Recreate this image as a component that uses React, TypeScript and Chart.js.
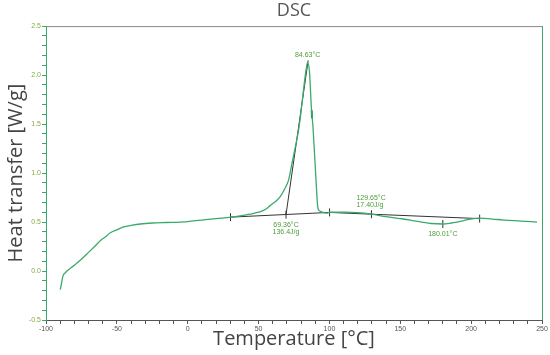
import React, { useEffect, useRef } from "react";
import { Chart, registerables } from "chart.js";

Chart.register(...registerables);

// Main DSC curve (temperature °C, heat flow W/g)
const temperature = [
  -89.9, -89.0, -88.0, -86.5, -85.2, -80, -75.8, -70, -65, -61.7, -58, -54.6, -50, -45.2, -40, -33.4,
  -25, -15, -5, 0, 5, 10, 20, 30.8, 40, 44.2, 50, 55, 58.3, 62, 65.3, 68.5, 71.2, 73.6, 76.0, 78,
  79.5, 81, 82.3, 83.7, 84.6, 86.0, 87.2, 88.4, 89.6, 90.8, 91.7, 92.5, 93.6, 98.3, 100, 110, 120,
  129.65, 140, 150, 157, 165, 172, 180, 186, 190, 195, 199.4, 206, 215, 223, 235, 246.5,
];
const heatFlow = [
  -0.19, -0.12, -0.05, -0.02, 0.0, 0.06, 0.11, 0.19, 0.26, 0.31, 0.35, 0.39, 0.42, 0.45, 0.465, 0.48,
  0.49, 0.495, 0.5, 0.505, 0.515, 0.52, 0.535, 0.55, 0.57, 0.58, 0.6, 0.63, 0.67, 0.71, 0.76, 0.84,
  0.93, 1.1, 1.27, 1.42, 1.57, 1.76, 1.92, 2.07, 2.13, 2.02, 1.68, 1.47, 1.17, 0.86, 0.66, 0.62, 0.61,
  0.59, 0.6, 0.6, 0.595, 0.58, 0.555, 0.535, 0.52, 0.5, 0.485, 0.48, 0.49, 0.5, 0.515, 0.53, 0.54,
  0.53, 0.52, 0.51, 0.5,
];

// Integration baselines (dark)
const baselineT = [30.2, 100.1, 129.65, 206];
const baselineH = [0.55, 0.598, 0.58, 0.535];

// Onset tangent
const tangentT = [69.36, 85.0];
const tangentH = [0.575, 2.15];

// Vertical tick markers on the analysis
const markerT = [30.2, 69.36, 100.1, 129.65, 180.01, 206];
const markerH = [0.55, 0.575, 0.598, 0.58, 0.48, 0.535];

// Small cursor mark on the falling edge of the peak
const cursorT = [87.6];
const cursorH = [1.6];

// Annotation texts
const noteT = [84.63, 69.36, 129.65, 180.01];
const noteH = [2.13, 0.575, 0.58, 0.48];
const noteText = [["84.63°C"], ["69.36°C", "136.4J/g"], ["129.65°C", "17.40J/g"], ["180.01°C"]];
const notePlacement = ["above", "below", "above", "below"];

// Axis ranges
const xMin = -100;
const xMax = 250;
const yMin = -0.5;
const yMax = 2.5;

const GREEN = "#3aaa6a";
const DARK = "#333333";

const toXY = (xs: number[], ys: number[]) => xs.map((x, i) => ({ x, y: ys[i] }));

const annotationPlugin = {
  id: "dscNotes",
  afterDatasetsDraw(chart: any) {
    const { ctx, chartArea, scales } = chart;
    ctx.save();
    // frame: top gray, right green
    ctx.lineWidth = 1;
    ctx.strokeStyle = "#888888";
    ctx.beginPath();
    ctx.moveTo(chartArea.left, chartArea.top + 0.5);
    ctx.lineTo(chartArea.right, chartArea.top + 0.5);
    ctx.stroke();
    ctx.strokeStyle = GREEN;
    ctx.beginPath();
    ctx.moveTo(chartArea.right + 0.5, chartArea.top);
    ctx.lineTo(chartArea.right + 0.5, chartArea.bottom);
    ctx.stroke();

    ctx.fillStyle = "#4e9a3a";
    ctx.font = "7px Arial, 'Liberation Sans', sans-serif";
    ctx.textBaseline = "middle";
    noteT.forEach((t, i) => {
      const px = scales.x.getPixelForValue(t);
      const py = scales.y.getPixelForValue(noteH[i]);
      const lines = noteText[i];
      const above = notePlacement[i] === "above";
      lines.forEach((line, j) => {
        let y: number;
        if (above) {
          y = py - 8 - (lines.length - 1 - j) * 7.5;
          if (i === 0) y = py - 7;
        } else {
          y = py + 10 + j * 7.5;
        }
        if (i === 2) {
          ctx.textAlign = "left";
          ctx.fillText(line, px - 15, y - 1);
        } else {
          ctx.textAlign = "center";
          ctx.fillText(line, px, y);
        }
      });
    });
    ctx.restore();
  },
};

export default function App() {
  const canvasRef = useRef<HTMLCanvasElement | null>(null);

  useEffect(() => {
    if (!canvasRef.current) return;
    const chart = new Chart(canvasRef.current, {
      type: "line",
      data: {
        datasets: [
          {
            label: "DSC",
            data: toXY(temperature, heatFlow),
            borderColor: GREEN,
            borderWidth: 1.3,
            pointRadius: 0,
            cubicInterpolationMode: "monotone",
            fill: false,
          },
          {
            label: "Baseline",
            data: toXY(baselineT, baselineH),
            borderColor: DARK,
            borderWidth: 1,
            pointRadius: 0,
            tension: 0,
          },
          {
            label: "Tangent",
            data: toXY(tangentT, tangentH),
            borderColor: DARK,
            borderWidth: 1,
            pointRadius: 0,
            tension: 0,
          },
          {
            label: "Markers",
            data: toXY(markerT, markerH),
            showLine: false,
            pointStyle: "line",
            rotation: 90,
            pointRadius: 4,
            pointBorderWidth: 1,
            pointBorderColor: DARK,
            pointBackgroundColor: DARK,
            borderColor: DARK,
          },
          {
            label: "Cursor",
            data: toXY(cursorT, cursorH),
            showLine: false,
            pointStyle: "line",
            rotation: 88,
            pointRadius: 4,
            pointBorderWidth: 2,
            pointBorderColor: "#1e8a45",
            borderColor: "#1e8a45",
          },
        ],
      },
      options: {
        responsive: false,
        animation: false,
        layout: { padding: { top: 0, right: 8, left: 0, bottom: 0 } },
        plugins: {
          legend: { display: false },
          tooltip: { enabled: false },
          title: {
            display: true,
            text: "DSC",
            fullSize: false,
            color: "#555555",
            font: { size: 18, family: "'Open Sans', 'Noto Sans', sans-serif", weight: "normal" },
            padding: { top: 0, bottom: 4.5 },
          },
        },
        scales: {
          x: {
            type: "linear",
            min: xMin,
            max: xMax,
            afterFit: (scale: any) => {
              scale.height = 35;
            },
            border: { color: "#555555", width: 1 },
            grid: { drawOnChartArea: false, drawTicks: true, tickLength: 4, color: "#555555" },
            ticks: {
              stepSize: 10,
              autoSkip: false,
              maxRotation: 0,
              padding: 1,
              color: "#555555",
              font: { size: 7, family: "Arial, 'Liberation Sans', sans-serif" },
              callback: (v: any) => (Math.round(v) % 50 === 0 ? String(Math.round(v)) : ""),
            },
            title: {
              display: true,
              text: "Temperature [°C]",
              color: "#444444",
              font: { size: 20, family: "'Open Sans', 'Noto Sans', sans-serif" },
              padding: { top: 0, bottom: 4 },
            },
          },
          y: {
            type: "linear",
            min: yMin,
            max: yMax,
            afterFit: (scale: any) => {
              scale.width = 46;
            },
            border: { color: GREEN, width: 1 },
            grid: { drawOnChartArea: false, drawTicks: true, tickLength: 4, color: GREEN },
            ticks: {
              stepSize: 0.1,
              autoSkip: false,
              padding: 1,
              color: "#86ad3c",
              font: { size: 7, family: "Arial, 'Liberation Sans', sans-serif" },
              callback: (v: any) => {
                const n = Number(v);
                return Math.abs(n * 2 - Math.round(n * 2)) < 1e-6 ? n.toFixed(1) : "";
              },
            },
            title: {
              display: true,
              text: "Heat transfer [W/g]",
              color: "#444444",
              font: { size: 20, family: "'Open Sans', 'Noto Sans', sans-serif" },
              padding: { top: 4, bottom: 0 },
            },
          },
        },
      },
      plugins: [annotationPlugin],
    } as any);
    return () => chart.destroy();
  }, []);

  return (
    <div style={{ position: "fixed", left: 0, top: 0, width: 550, height: 355, background: "#ffffff" }}>
      <canvas ref={canvasRef} width={550} height={355} style={{ display: "block" }} />
    </div>
  );
}
